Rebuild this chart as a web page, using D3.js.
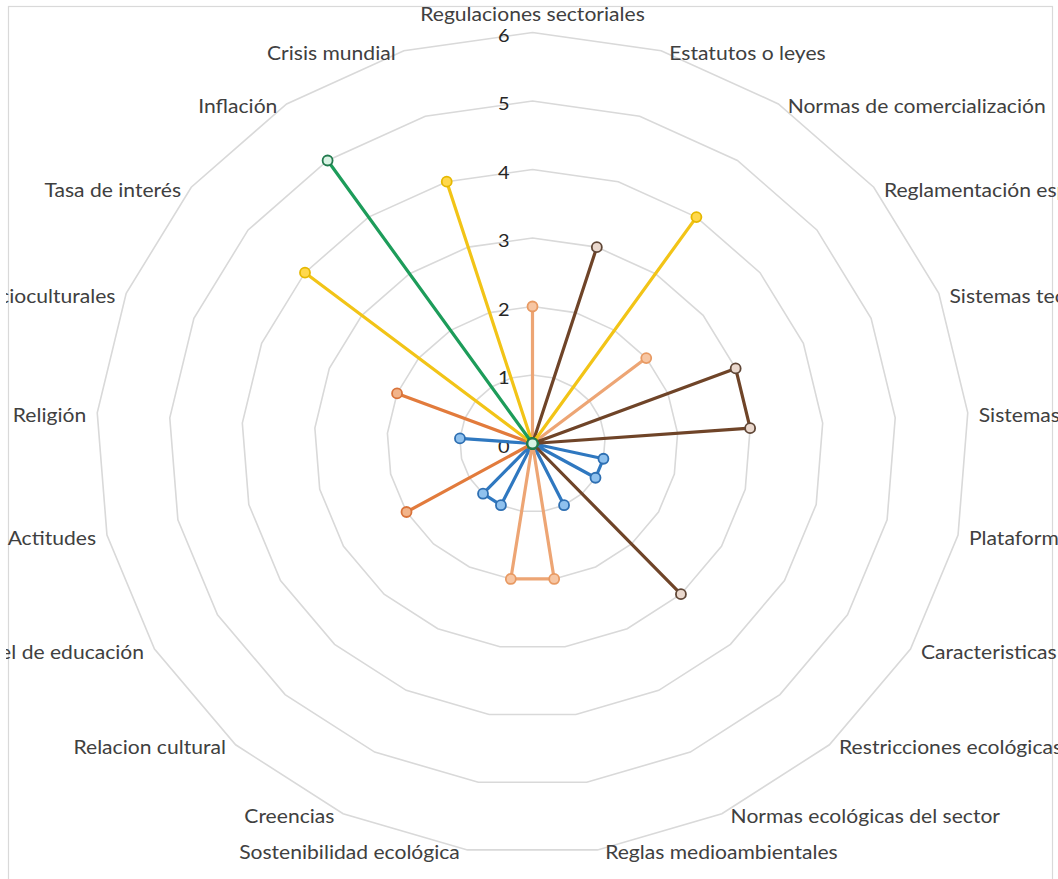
<!DOCTYPE html>
<html>
<head>
<meta charset="utf-8">
<script src="https://cdn.jsdelivr.net/npm/d3@7"></script>
<style>
  html, body { margin: 0; padding: 0; background: #ffffff; }
  svg { display: block; }
  text { font-family: Lato, "Open Sans", sans-serif; fill: #404040; }
</style>
</head>
<body>
<svg id="chart" width="1058" height="879"></svg>
<script>
// Radar categories, clockwise from the top
const categories = [
  "Regulaciones sectoriales",
  "Estatutos o leyes",
  "Normas de comercialización",
  "Reglamentación específica",
  "Sistemas tecnológicos",
  "Sistemas de información",
  "Plataformas digitales",
  "Caracteristicas técnicas",
  "Restricciones ecológicas",
  "Normas ecológicas del sector",
  "Reglas medioambientales",
  "Sostenibilidad ecológica",
  "Creencias",
  "Relacion cultural",
  "Nivel de educación",
  "Actitudes",
  "Religión",
  "Factores socioculturales",
  "Tasa de interés",
  "Inflación",
  "Crisis mundial"
];

// Series values, one per category
const blueValues   = [0, 0, 0, 0, 0, 0, 1, 1, 0, 1, 0, 0, 1, 1, 0, 0, 1, 0, 0, 0, 0];
const salmonValues = [2, 0, 0, 2, 0, 0, 0, 0, 0, 0, 2, 2, 0, 0, 0, 0, 0, 0, 0, 0, 0];
const orangeValues = [0, 0, 0, 0, 0, 0, 0, 0, 0, 0, 0, 0, 0, 0, 2, 0, 0, 2, 0, 0, 0];
const brownValues  = [0, 3, 0, 0, 3, 3, 0, 0, 3, 0, 0, 0, 0, 0, 0, 0, 0, 0, 0, 0, 0];
const yellowValues = [0, 0, 4, 0, 0, 0, 0, 0, 0, 0, 0, 0, 0, 0, 0, 0, 0, 0, 4, 0, 4];
const greenValues  = [0, 0, 0, 0, 0, 0, 0, 0, 0, 0, 0, 0, 0, 0, 0, 0, 0, 0, 0, 5, 0];

const tickValues = [0, 1, 2, 3, 4, 5, 6];

// Series styling (line colour, marker stroke, marker fill)
const series = [
  { values: blueValues,   line: "#2f78c0", stroke: "#2e6fb2", fill: "#8fc1ee" },
  { values: salmonValues, line: "#eda574", stroke: "#e89a63", fill: "#f7c6a3" },
  { values: orangeValues, line: "#e27b3c", stroke: "#d9733a", fill: "#f2b48a" },
  { values: brownValues,  line: "#6f4428", stroke: "#5f4636", fill: "#ead8cd" },
  { values: yellowValues, line: "#f2c417", stroke: "#e6b800", fill: "#ffd84d" },
  { values: greenValues,  line: "#1d9c5a", stroke: "#227a4e", fill: "#d9f3e4" }
];

const W = 1058, H = 879;
const cx = 532.5, cy = 443.5;
const xStretch = 1.062;     // horizontal stretch of the plot
const labelStretch = 1.11;  // horizontal stretch of the label glyphs

const svg = d3.select("#chart");

svg.append("defs").append("clipPath").attr("id", "frame")
  .append("rect").attr("x", 6).attr("y", 0).attr("width", W - 6).attr("height", H);

const root = svg.append("g").attr("clip-path", "url(#frame)");

// chart frame
root.append("rect")
  .attr("x", 8.5).attr("y", 6.5)
  .attr("width", 1044).attr("height", H + 20)
  .attr("fill", "none").attr("stroke", "#d9d9d9").attr("stroke-width", 1.2);

const r = d3.scaleLinear().domain([0, 6]).range([0, 411]);
const angle = d3.scaleLinear().domain([0, categories.length]).range([0, 2 * Math.PI]);

const px = (i, v) => cx + r(v) * xStretch * Math.sin(angle(i));
const py = (i, v) => cy - r(v) * Math.cos(angle(i));

const idx = d3.range(categories.length);

// grid rings
const ringLine = d3.line().curve(d3.curveLinearClosed);
root.append("g").selectAll("path")
  .data(tickValues.filter(t => t > 0))
  .join("path")
  .attr("d", t => ringLine(idx.map(i => [px(i, t), py(i, t)])))
  .attr("fill", "none")
  .attr("stroke", "#d9d9d9")
  .attr("stroke-width", 1.6);

// value axis tick labels
root.append("g").selectAll("text")
  .data(tickValues)
  .join("text")
  .attr("transform", t => `translate(${cx - 23},${cy - r(t) + 2}) scale(${labelStretch},1)`)
  .attr("text-anchor", "end")
  .attr("dominant-baseline", "central")
  .style("font-size", "18px")
  .style("fill", "#262626")
  .text(t => t);

// category labels
const maxV = d3.max(tickValues);
root.append("g").selectAll("text")
  .data(idx)
  .join("text")
  .attr("transform", i => {
    const s = Math.sin(angle(i));
    const x = Math.abs(s) < 1e-6 ? px(i, maxV) : px(i, maxV) + Math.sign(s) * (7 + 4 * Math.abs(s));
    const y = i === 0 ? py(i, maxV) - 19 : py(i, maxV) + 2;
    return `translate(${x},${y}) scale(${labelStretch},1)`;
  })
  .attr("text-anchor", i => {
    const s = Math.sin(angle(i));
    return Math.abs(s) < 1e-6 ? "middle" : (s > 0 ? "start" : "end");
  })
  .attr("dominant-baseline", "central")
  .style("font-size", "19px")
  .text(i => categories[i]);

// series lines and markers
const seriesLine = d3.line().curve(d3.curveLinearClosed);
const sg = root.append("g");
series.forEach(s => {
  const g = sg.append("g");
  g.append("path")
    .attr("d", seriesLine(s.values.map((v, i) => [px(i, v), py(i, v)])))
    .attr("fill", "none")
    .attr("stroke", s.line)
    .attr("stroke-width", 3.2)
    .attr("stroke-linejoin", "round");
  g.selectAll("circle")
    .data(s.values)
    .join("circle")
    .attr("cx", (v, i) => px(i, v))
    .attr("cy", (v, i) => py(i, v))
    .attr("r", 5)
    .attr("fill", s.fill)
    .attr("stroke", s.stroke)
    .attr("stroke-width", 1.8);
});
</script>
</body>
</html>
